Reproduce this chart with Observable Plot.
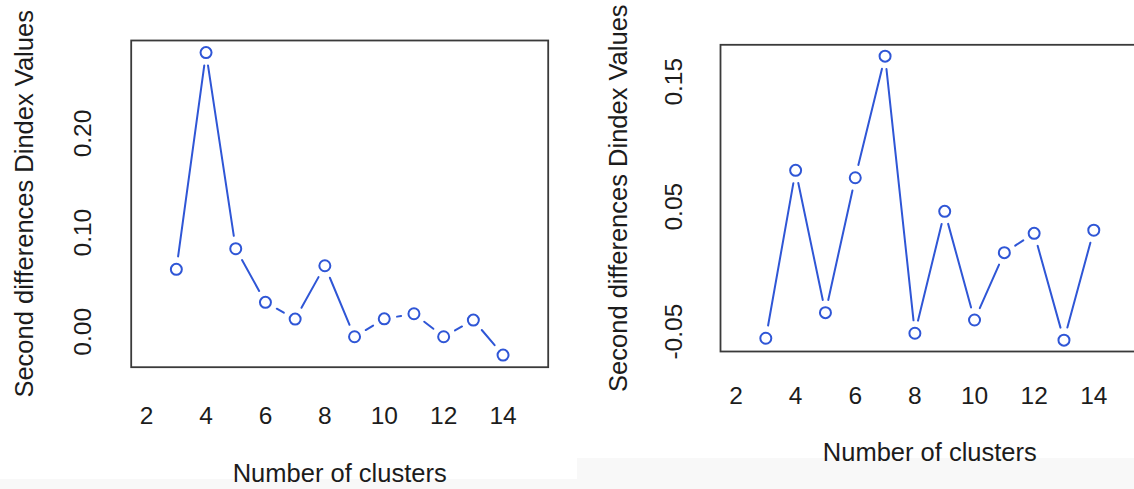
<!DOCTYPE html>
<html><head><meta charset="utf-8">
<script src="https://cdn.jsdelivr.net/npm/d3@7"></script>
<script src="https://cdn.jsdelivr.net/npm/@observablehq/plot@0.6"></script>
<style>
html,body{margin:0;padding:0;background:#fff;overflow:hidden;width:1134px;height:489px}
#wrap{position:relative;width:1134px;height:489px;overflow:hidden;font-family:"Liberation Sans",Arial,sans-serif}
.panel{position:absolute;top:0}
.bg{position:absolute}
</style></head><body><div id="wrap">
<div class="bg" style="left:0;top:479px;width:577px;height:10px;background:#f8f8f8"></div>
<div class="bg" style="left:577px;top:458px;width:557px;height:31px;background:#f8f8f8"></div>
<div id="left" class="panel" style="left:0;width:570px"></div>
<div id="right" class="panel" style="left:570px;width:600px"></div>
</div>
<script>
const clusters = [3, 4, 5, 6, 7, 8, 9, 10, 11, 12, 13, 14];
const leftValues = [0.0630, 0.2816, 0.0838, 0.0297, 0.0128, 0.0666, -0.0050, 0.0131, 0.0182, -0.0050, 0.0118, -0.0235];
const rightValues = [-0.0553, 0.0791, -0.0348, 0.0732, 0.1705, -0.0513, 0.0463, -0.0407, 0.0132, 0.0287, -0.0568, 0.0312];
const xTicks = [2, 4, 6, 8, 10, 12, 14];
const leftYTicks = [0.00, 0.10, 0.20];
const rightYTicks = [-0.05, 0.05, 0.15];
const xLimits = [2, 15];
const xLabel = "Number of clusters";
const yLabel = "Second differences Dindex Values";

const blue = "#2f56d6";
const fs = 24.5;
const fsTitle = 25.5;

function segs(vals) {
  const s = [];
  for (let i = 0; i < clusters.length - 1; i++) {
    s.push({x1: clusters[i], y1: vals[i], x2: clusters[i + 1], y2: vals[i + 1]});
  }
  return s;
}

function panel(o) {
  const lo = d3.min(o.values), hi = d3.max(o.values), e = (hi - lo) * 0.04;
  const xe = (xLimits[1] - xLimits[0]) * 0.04;
  const pts = clusters.map((c, i) => ({x: c, y: o.values[i]}));
  return Plot.plot({
    width: o.width, height: 489,
    marginLeft: o.marginLeft, marginRight: o.marginRight,
    marginTop: o.marginTop, marginBottom: o.marginBottom,
    style: {background: "transparent", fontFamily: "'Liberation Sans', Arial, sans-serif", color: "#1c1c1c", maxWidth: "none", overflow: "visible"},
    x: {domain: [xLimits[0] - xe, xLimits[1] + xe]},
    y: {domain: [lo - e, hi + e]},
    marks: [
      Plot.frame({stroke: "#3a3a3a", strokeWidth: 1.8}),
      Plot.axisX(xTicks, {tickSize: 0, tickPadding: o.xPad, fontSize: fs, label: null}),
      Plot.axisY(o.yTicks, {tickSize: 0, tickPadding: o.yPad, tickFormat: d => d.toFixed(2), rotate: -90, textAnchor: "middle", fontSize: fs, label: null}),
      Plot.text([xLabel], {frameAnchor: "bottom", dy: o.xTitleDy, fontSize: fsTitle, textAnchor: "middle", lineAnchor: "middle"}),
      Plot.text([yLabel], {frameAnchor: "left", dx: o.yTitleDx, rotate: -90, fontSize: fsTitle, textAnchor: "middle", lineAnchor: "middle"}),
      Plot.arrow(segs(o.values), {x1: "x1", y1: "y1", x2: "x2", y2: "y2", stroke: blue, strokeWidth: 2, headLength: 0, insetStart: 13, insetEnd: 13}),
      Plot.dot(pts, {x: "x", y: "y", r: 5.5, stroke: blue, strokeWidth: 2, fill: "white"})
    ]
  });
}

document.getElementById("left").append(panel({
  values: leftValues, yTicks: leftYTicks, width: 570,
  marginLeft: 130.7, marginRight: 22.3, marginTop: 40, marginBottom: 122.3,
  xPad: 39.6, yPad: 48.5, xTitleDy: 106.3, yTitleDx: -106.7
}));
document.getElementById("right").append(panel({
  values: rightValues, yTicks: rightYTicks, width: 600,
  marginLeft: 150, marginRight: 31.4, marginTop: 44.3, marginBottom: 138,
  xPad: 35.3, yPad: 46.7, xTitleDy: 101, yTitleDx: -101.7
}));
</script>
</body></html>
